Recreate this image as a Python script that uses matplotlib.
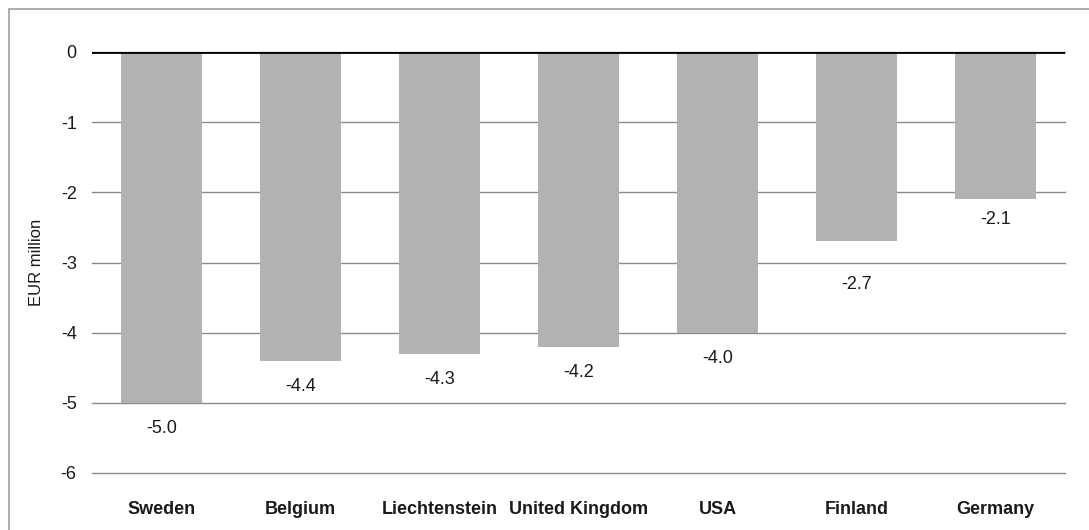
import matplotlib.pyplot as plt
from matplotlib.patches import Rectangle

plt.rcParams['font.family'] = ['Liberation Sans', 'DejaVu Sans']

# Values in EUR million
countries = ["Sweden", "Belgium", "Liechtenstein", "United Kingdom", "USA", "Finland", "Germany"]
values = [-5.0, -4.4, -4.3, -4.2, -4.0, -2.7, -2.1]
yticks = [0, -1, -2, -3, -4, -5, -6]

# distance of each value label below its bar end (axis units)
label_gap = [0.37, 0.37, 0.37, 0.37, 0.37, 0.61, 0.29]

fig = plt.figure(figsize=(10.89, 5.30), dpi=100)
ax = fig.add_axes([92 / 1089, 1 - 473 / 530, (1065 - 92) / 1089, (473 - 52) / 530])

# Outer frame
fig.patches.append(Rectangle((9 / 1089, -0.05), 1.2, 1 - 9 / 530 + 0.05,
                             transform=fig.transFigure, fill=False,
                             edgecolor="#a0a0a0", linewidth=1.2))

x = range(len(countries))
ax.bar(x, values, width=0.58, color="#b2b2b2", zorder=2)

for xi, v, g in zip(x, values, label_gap):
    ax.text(xi, v - g, f"{v:.1f}", ha="center", va="center", fontsize=13, color="#1a1a1a")

ax.set_xlim(-0.5, len(countries) - 0.5)
ax.set_ylim(-6, 0)
ax.set_yticks(yticks)
ax.set_yticklabels([str(t) for t in yticks], fontsize=13, color="#1a1a1a")
ax.yaxis.grid(True, color="#8a8a8a", linewidth=1.0, zorder=0)
for gl in ax.get_ygridlines():
    gl.set_clip_on(False)
ax.axhline(0, color="black", linewidth=2, zorder=3)

ax.set_xticks(list(x))
ax.set_xticklabels(countries, fontsize=13, fontweight="bold", color="#1a1a1a")
ax.tick_params(axis="x", length=0, pad=20)
ax.tick_params(axis="y", length=0, pad=11)
for s in ax.spines.values():
    s.set_visible(False)

ax.set_ylabel("EUR million", fontsize=12, color="#1a1a1a", labelpad=12)

fig.savefig("out.png", dpi=100)
